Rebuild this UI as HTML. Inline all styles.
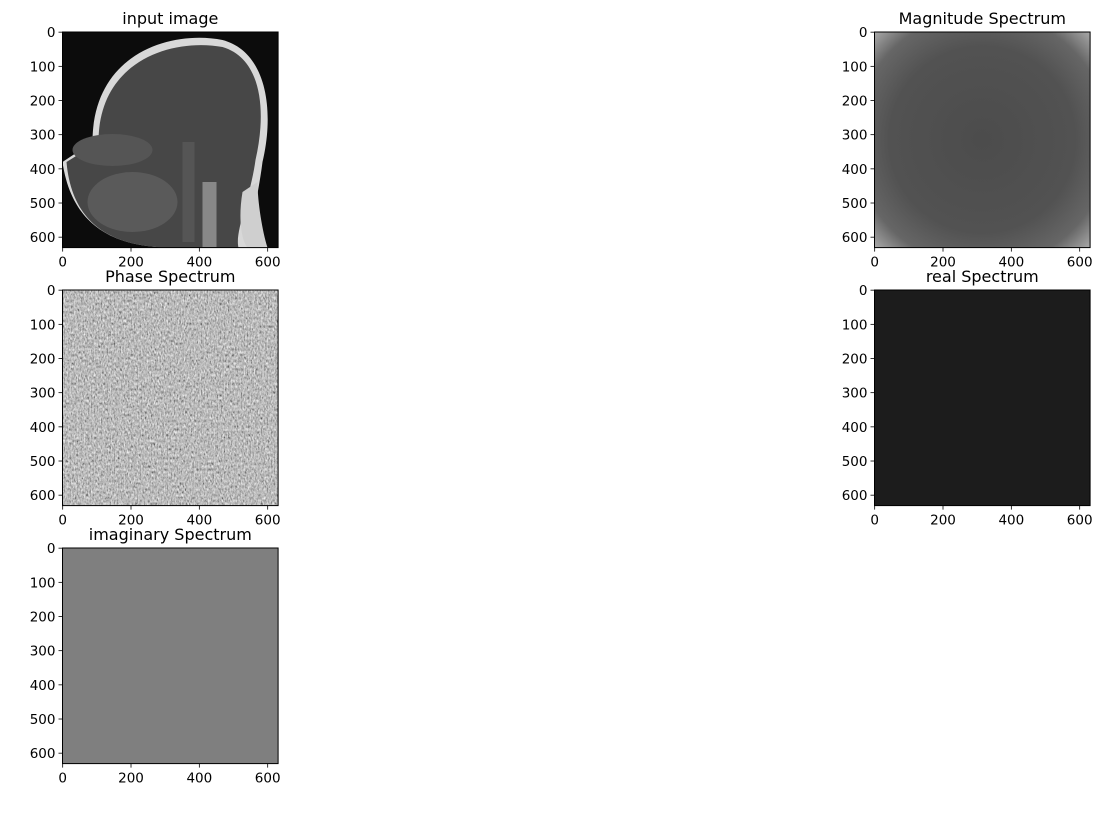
<!DOCTYPE html>
<html><head><meta charset="utf-8">
<style>
body{margin:0;background:#fff;width:1120px;height:817px;overflow:hidden;font-family:"Liberation Sans","DejaVu Sans",sans-serif;}
svg text{font-family:"DejaVu Sans","Liberation Sans",sans-serif;}
</style></head>
<body>
<svg id="fig" width="1120" height="817">
<defs>
<filter id="noise" x="0" y="0" width="100%" height="100%">
<feTurbulence type="fractalNoise" baseFrequency="0.7 0.35" numOctaves="2" seed="3"/>
<feColorMatrix type="matrix" values="0.33 0.33 0.33 0 0  0.33 0.33 0.33 0 0  0.33 0.33 0.33 0 0  0 0 0 0 1"/>
<feComponentTransfer><feFuncR type="linear" slope="1.7" intercept="-0.35"/><feFuncG type="linear" slope="1.7" intercept="-0.35"/><feFuncB type="linear" slope="1.7" intercept="-0.35"/></feComponentTransfer>
</filter>
<radialGradient id="magGrad" cx="50%" cy="50%" r="72%">
<stop offset="0" stop-color="#4c4c4c"/><stop offset="0.6" stop-color="#525252"/><stop offset="0.82" stop-color="#666"/><stop offset="1" stop-color="#b0b0b0"/>
</radialGradient>
</defs>
</svg>
<script>
const xTicks=[0,200,400,600];
const yTicks=[0,100,200,300,400,500,600];
const domainMin=-0.5, domainMax=630.5;
const panels=[
 {name:'input-image',title:'input image',x:62.5,y:32,kind:'mri'},
 {name:'magnitude-spectrum',title:'Magnitude Spectrum',x:874.5,y:32,kind:'mag'},
 {name:'phase-spectrum',title:'Phase Spectrum',x:62.5,y:290,kind:'phase'},
 {name:'real-spectrum',title:'real Spectrum',x:874.5,y:290,kind:'real'},
 {name:'imaginary-spectrum',title:'imaginary Spectrum',x:62.5,y:548,kind:'imag'}
];
const SIZE=215.6;
const NS='http://www.w3.org/2000/svg';
const fig=document.getElementById('fig');
function mk(tag,attrs,parent){const e=document.createElementNS(NS,tag);for(const k in attrs)e.setAttribute(k,attrs[k]);(parent||fig).appendChild(e);return e;}
panels.forEach(p=>{
 const g=mk('g',{});
 
 
 const sc=v=>(v-domainMin)/(domainMax-domainMin)*SIZE;
 const X=v=>p.x+sc(v), Y=v=>p.y+sc(v);
 const img=mk('g',{},g);
 
 
 const x0=p.x,y0=p.y,s=SIZE;
 if(p.kind==='mri'){
  mk('rect',{x:x0,y:y0,width:s,height:s,fill:'#0c0c0c'},img);
  mk('path',{d:`M${x0+30} ${y0+110} C${x0+30} ${y0+20} ${x0+110} ${y0-2} ${x0+160} ${y0+8} C${x0+205} ${y0+20} ${x0+212} ${y0+80} ${x0+200} ${y0+130} C${x0+195} ${y0+170} ${x0+185} ${y0+200} ${x0+190} ${y0+s} L${x0+150} ${y0+s} L${x0+110} ${y0+s} C${x0+60} ${y0+s} ${x0+10} ${y0+200} ${x0} ${y0+130} Z`,fill:'#d8d8d8'},img);
  mk('path',{d:`M${x0+36} ${y0+110} C${x0+36} ${y0+28} ${x0+110} ${y0+6} ${x0+160} ${y0+15} C${x0+200} ${y0+27} ${x0+204} ${y0+80} ${x0+193} ${y0+128} C${x0+188} ${y0+165} ${x0+172} ${y0+200} ${x0+176} ${y0+s} L${x0+110} ${y0+s} C${x0+60} ${y0+s} ${x0+10} ${y0+200} ${x0+4} ${y0+130} Z`,fill:'#474747'},img);
  mk('ellipse',{cx:x0+50,cy:y0+118,rx:40,ry:16,fill:'#555'},img);
  mk('ellipse',{cx:x0+70,cy:y0+170,rx:45,ry:30,fill:'#5a5a5a'},img);
  mk('rect',{x:x0+120,y:y0+110,width:12,height:100,fill:'#555'},img);
  mk('rect',{x:x0+140,y:y0+150,width:14,height:65,fill:'#888'},img);
  mk('path',{d:`M${x0+180} ${y0+160} C${x0+175} ${y0+190} ${x0+180} ${y0+210} ${x0+185} ${y0+s} L${x0+205} ${y0+s} C${x0+200} ${y0+200} ${x0+195} ${y0+170} ${x0+195} ${y0+150} Z`,fill:'#cfcfcf'},img);
 } else if(p.kind==='mag'){
  mk('rect',{x:x0,y:y0,width:s,height:s,fill:'url(#magGrad)'},img);
 } else if(p.kind==='phase'){
  mk('rect',{x:x0,y:y0,width:s,height:s,fill:'#808080'},img);
  mk('rect',{x:x0,y:y0,width:s,height:s,filter:'url(#noise)'},img);
 } else if(p.kind==='real'){
  mk('rect',{x:x0,y:y0,width:s,height:s,fill:'#1c1c1c'},img);
 } else {
  mk('rect',{x:x0,y:y0,width:s,height:s,fill:'#7f7f7f'},img);
 }
 const fr=mk('rect',{x:x0,y:y0,width:s,height:s,fill:'none',stroke:'#000','stroke-width':1},g);
 
 
 const t=mk('text',{x:x0+s/2,y:y0-8,'text-anchor':'middle','font-size':16,fill:'#000'},g);
 t.textContent=p.title;
 
 
 xTicks.forEach(v=>{
  const xx=X(v);
  mk('line',{x1:xx,x2:xx,y1:y0+s,y2:y0+s+4,stroke:'#000','stroke-width':0.8},g);
  const tl=mk('text',{x:xx,y:y0+s+19,'text-anchor':'middle','font-size':13.5,fill:'#000'},g);
  tl.textContent=v;
  
  
 });
 yTicks.forEach(v=>{
  const yy=Y(v);
  mk('line',{x1:x0-4,x2:x0,y1:yy,y2:yy,stroke:'#000','stroke-width':0.8},g);
  const tl=mk('text',{x:x0-7,y:yy+5,'text-anchor':'end','font-size':13.5,fill:'#000'},g);
  tl.textContent=v;
  
  
 });
});
</script>
</body></html>
